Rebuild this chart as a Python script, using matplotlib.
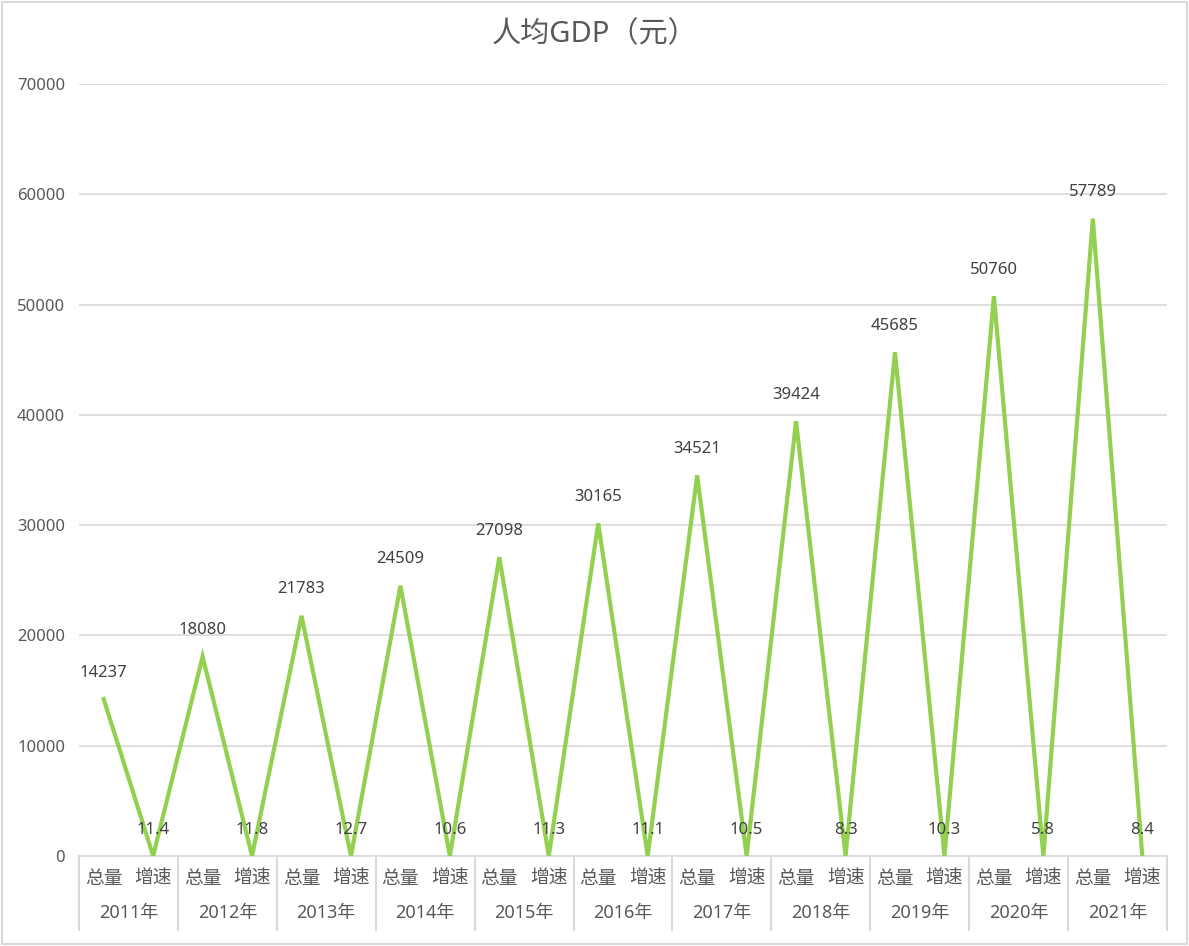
import matplotlib.pyplot as plt
from matplotlib.patches import Rectangle
import numpy as np

plt.rcParams['font.family'] = ['Noto Sans', 'Noto Sans CJK SC', 'DejaVu Sans']

years = ['2011年', '2012年', '2013年', '2014年', '2015年', '2016年',
         '2017年', '2018年', '2019年', '2020年', '2021年']
sub_labels = ['总量', '增速']
totals = [14237, 18080, 21783, 24509, 27098, 30165, 34521, 39424, 45685, 50760, 57789]
growth = [11.4, 11.8, 12.7, 10.6, 11.3, 11.1, 10.5, 8.3, 10.3, 5.8, 8.4]

# interleave total / growth as in the original sheet
values = []
for t, g in zip(totals, growth):
    values += [t, g]
x = np.arange(len(values))

text_c = '#595959'
grid_c = '#D9D9D9'

fig = plt.figure(figsize=(11.89, 9.46), dpi=100)
ax = fig.add_axes([0.0664, 0.0951, 0.9151, 0.8161])

ax.plot(x, values, color='#92D050', linewidth=3, solid_joinstyle='miter', zorder=3)
for xi, v in zip(x, values):
    lab = f'{v:g}' if v < 100 else f'{int(v)}'
    ax.annotate(lab, (xi, v), xytext=(0, 19), textcoords='offset points',
                ha='center', va='center', fontsize=12, color='#404040')

ax.set_xlim(-0.5, len(values) - 0.5)
ax.set_ylim(0, 70000)
ax.set_yticks(np.arange(0, 70001, 10000))
ax.set_yticklabels([str(v) for v in range(0, 70001, 10000)], fontsize=12, color=text_c)
ax.tick_params(axis='y', length=0, pad=10)
ax.set_xticks([])
ax.grid(axis='y', color=grid_c, linewidth=1.2)
ax.set_axisbelow(True)
for s in ['top', 'right', 'left']:
    ax.spines[s].set_visible(False)
ax.spines['bottom'].set_color(grid_c)
ax.spines['bottom'].set_linewidth(1.2)

# two-level category axis
trans = ax.get_xaxis_transform()
for i, yr in enumerate(years):
    for j, sl in enumerate(sub_labels):
        ax.text(2 * i + j, -0.030, sl, transform=trans, ha='center', va='center',
                fontsize=13.5, color=text_c)
    ax.text(2 * i + 0.5, -0.074, yr, transform=trans, ha='center', va='center',
            fontsize=13, color=text_c)
for b in np.arange(-0.5, len(values), 2):
    ax.plot([b, b], [0, -0.096], transform=trans, color=grid_c, linewidth=1.5,
            clip_on=False)

fig.text(0.5, 0.963, '人均GDP（元）', fontsize=21, color=text_c, ha='center', va='center')

fig.patches.append(Rectangle((0.002, 0.002), 0.996, 0.996, transform=fig.transFigure,
                             fill=False, edgecolor=grid_c, linewidth=1.5))

fig.savefig('out.png', dpi=100)
